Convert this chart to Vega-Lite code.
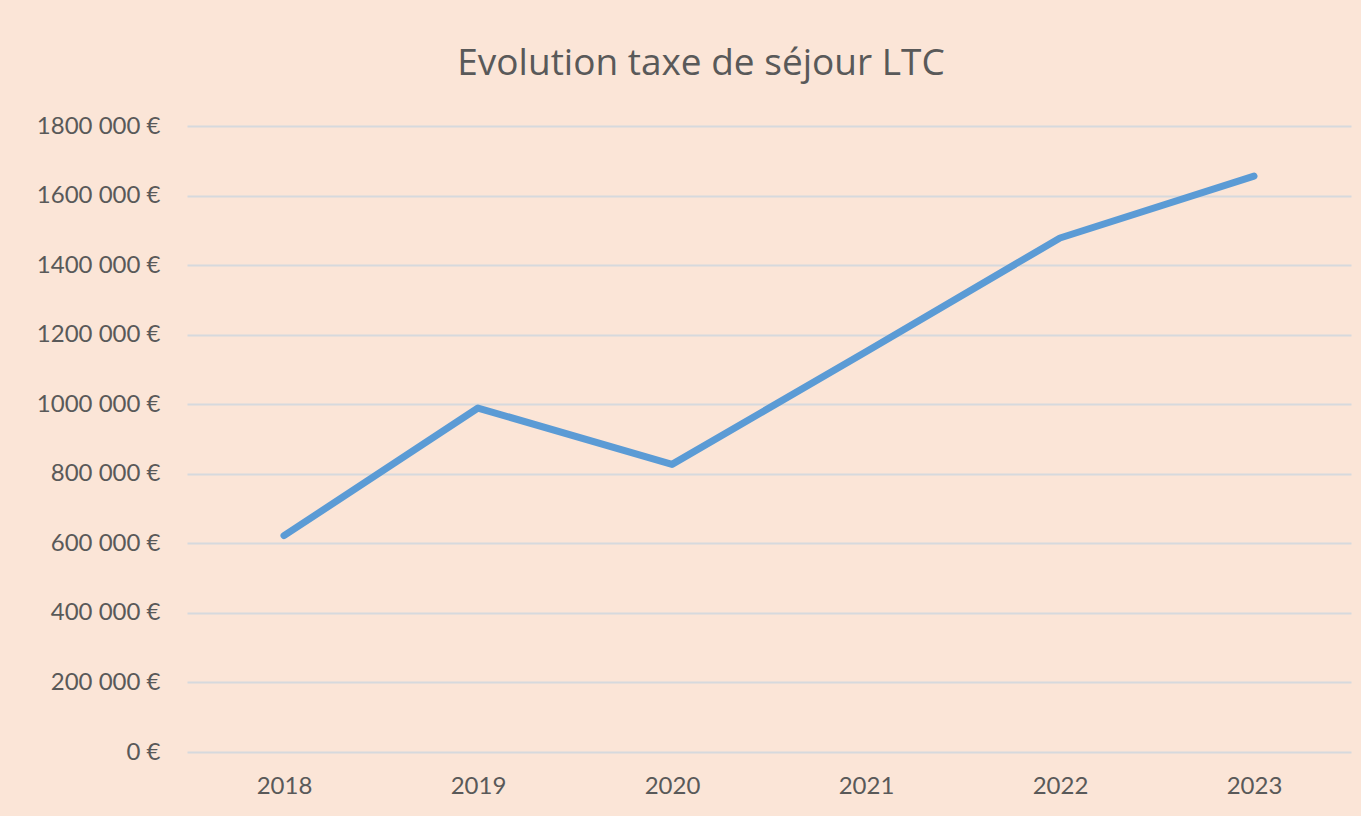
{
  "$schema": "https://vega.github.io/schema/vega-lite/v6.json",
  "width": 1164,
  "height": 626,
  "autosize": {"type": "none"},
  "padding": {"left": 187, "top": 126, "right": 10, "bottom": 64},
  "background": "#FBE5D7",
  "title": {
    "text": "Evolution taxe de séjour LTC",
    "font": "Open Sans",
    "fontSize": 37,
    "fontWeight": "normal",
    "color": "#595959",
    "anchor": "middle",
    "dx": -68,
    "offset": 31
  },
  "data": {
    "values": [
      {"annee": "2018", "montant": 622000},
      {"annee": "2019", "montant": 989000},
      {"annee": "2020", "montant": 827000},
      {"annee": "2021", "montant": 1151000},
      {"annee": "2022", "montant": 1478000},
      {"annee": "2023", "montant": 1656000}
    ]
  },
  "mark": {"type": "line", "color": "#5B9BD5", "strokeWidth": 7, "strokeCap": "round", "strokeJoin": "round"},
  "encoding": {
    "x": {
      "field": "annee",
      "type": "ordinal",
      "scale": {"type": "point", "padding": 0.5},
      "axis": {
        "title": null,
        "labelAngle": 0,
        "domain": false,
        "ticks": false,
        "grid": false,
        "labelFont": "Lato",
        "labelFontSize": 24,
        "labelColor": "#595959",
        "labelPadding": 22
      }
    },
    "y": {
      "field": "montant",
      "type": "quantitative",
      "scale": {"domain": [0, 1800000], "nice": false},
      "axis": {
        "title": null,
        "values": [0, 200000, 400000, 600000, 800000, 1000000, 1200000, 1400000, 1600000, 1800000],
        "labelExpr": "datum.value == 0 ? '0 €' : floor(datum.value / 1000) + ' 000 €'",
        "domain": false,
        "ticks": false,
        "grid": true,
        "gridColor": "#D6D9DD",
        "gridWidth": 2,
        "labelFont": "Lato",
        "labelFontSize": 24,
        "labelColor": "#595959",
        "labelPadding": 27
      }
    }
  },
  "config": {"view": {"stroke": null}}
}
